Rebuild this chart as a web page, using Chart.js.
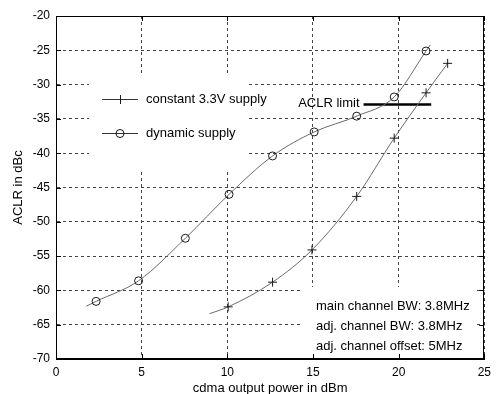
<!DOCTYPE html>
<html>
<head>
<meta charset="utf-8">
<script src="https://cdn.jsdelivr.net/npm/chart.js@4/dist/chart.umd.min.js"></script>
<style>
html,body{margin:0;padding:0;background:#fff;}
#wrap{position:relative;width:497px;height:394px;}
</style>
</head>
<body>
<div id="wrap"><canvas id="c"></canvas></div>
<script>
// ---- data ----
const xTicks = [0, 5, 10, 15, 20, 25];
const yTicks = [-70, -65, -60, -55, -50, -45, -40, -35, -30, -25, -20];

// constant 3.3V supply (first point = start of the fitted curve, no marker)
const constX = [8.96, 10.05, 12.64, 14.94, 17.55, 19.74, 21.6, 22.86];
const constY = [-63.4, -62.4, -58.8, -54.1, -46.3, -37.8, -31.2, -26.9];
const constMarker = [0, 1, 1, 1, 1, 1, 1, 1];

// dynamic supply (first/last point = curve ends, no marker)
const dynX = [1.77, 2.34, 4.82, 7.55, 10.1, 12.64, 15.07, 17.55, 19.74, 21.6, 21.85];
const dynY = [-62.3, -61.6, -58.6, -52.4, -46.0, -40.4, -36.9, -34.6, -31.8, -25.1, -24.2];
const dynMarker = [0, 1, 1, 1, 1, 1, 1, 1, 1, 1, 0];

// ACLR limit line
const limitX = [17.95, 21.9];
const limitY = [-32.9, -32.9];

const seriesNames = ['constant 3.3V supply', 'dynamic supply'];
const notes = ['main channel BW: 3.8MHz', 'adj. channel BW: 3.8MHz', 'adj. channel offset: 5MHz'];
const limitLabel = 'ACLR limit';
const xTitle = 'cdma output power in dBm';
const yTitle = 'ACLR in dBc';

const FONT = '"Liberation Sans", Arial, sans-serif';
const LINE = '#6a6a6a';
const MARK = '#1a1a1a';

function pts(xs, ys) { return xs.map((x, i) => ({x: x, y: ys[i]})); }

const boxPlugin = {
  id: 'boxPlugin',
  beforeDatasetsDraw(chart) {
    const ctx = chart.ctx, a = chart.chartArea;
    ctx.save();
    ctx.fillStyle = '#fff';
    // legend box (hides grid)
    ctx.fillRect(a.left + 33, a.top + 58, 157, 96);
    // annotation box
    ctx.fillRect(a.left + 244, a.top + 271, 176, a.bottom - (a.top + 271) - 1);
    ctx.restore();
  },
  afterDraw(chart) {
    const ctx = chart.ctx, a = chart.chartArea;
    const xs = chart.scales.x, ys = chart.scales.y;
    ctx.save();
    // box
    ctx.strokeStyle = '#000';
    ctx.lineWidth = 1;
    ctx.setLineDash([]);
    ctx.strokeRect(Math.round(a.left) + 0.5, Math.round(a.top) + 0.5,
                   Math.round(a.right - a.left) - 1, Math.round(a.bottom - a.top) - 1);
    // inward ticks
    ctx.beginPath();
    xTicks.forEach(v => {
      const px = Math.round(xs.getPixelForValue(v)) + 0.5;
      ctx.moveTo(px, a.bottom); ctx.lineTo(px, a.bottom - 5);
      ctx.moveTo(px, a.top); ctx.lineTo(px, a.top + 5);
    });
    yTicks.forEach(v => {
      const py = Math.round(ys.getPixelForValue(v)) + 0.5;
      ctx.moveTo(a.left, py); ctx.lineTo(a.left + 5, py);
      ctx.moveTo(a.right, py); ctx.lineTo(a.right - 5, py);
    });
    ctx.stroke();

    ctx.fillStyle = '#000';
    ctx.font = '13px ' + FONT;
    ctx.textBaseline = 'middle';
    // legend
    const lx0 = a.left + 46, lx1 = a.left + 82, lmid = a.left + 64;
    const ly = [a.top + 83, a.top + 117];
    for (let i = 0; i < 2; i++) {
      ctx.strokeStyle = '#333';
      ctx.lineWidth = 1;
      ctx.beginPath();
      ctx.moveTo(lx0, ly[i] + 0.5); ctx.lineTo(lx1, ly[i] + 0.5);
      ctx.stroke();
      ctx.strokeStyle = MARK;
      ctx.beginPath();
      if (i === 0) {
        ctx.moveTo(lmid + 0.5, ly[i] - 4); ctx.lineTo(lmid + 0.5, ly[i] + 5);
      } else {
        ctx.arc(lmid, ly[i] + 0.5, 4, 0, Math.PI * 2);
      }
      ctx.stroke();
      ctx.textAlign = 'left';
      ctx.fillText(seriesNames[i], a.left + 90, ly[i]);
    }
    // annotation
    notes.forEach((t, i) => ctx.fillText(t, a.left + 260, a.top + 290 + i * 20));
    // limit label
    ctx.textAlign = 'right';
    ctx.fillText(limitLabel, xs.getPixelForValue(limitX[0]) - 4, ys.getPixelForValue(limitY[0]) - 1);
    // axis titles
    ctx.textAlign = 'center';
    ctx.fillText(xTitle, (a.left + a.right) / 2, 388);
    ctx.save();
    ctx.translate(18, (a.top + a.bottom) / 2);
    ctx.rotate(-Math.PI / 2);
    ctx.fillText(yTitle, 0, 0);
    ctx.restore();
    ctx.restore();
  }
};

new Chart(document.getElementById('c'), {
  type: 'scatter',
  data: {
    datasets: [
      {
        label: seriesNames[0],
        data: pts(constX, constY),
        showLine: true,
        cubicInterpolationMode: 'monotone',
        borderColor: LINE,
        borderWidth: 1,
        pointStyle: 'cross',
        pointRadius: ctx => constMarker[ctx.dataIndex] ? 4.5 : 0,
        pointBorderColor: MARK,
        pointBorderWidth: 1,
        pointBackgroundColor: 'transparent',
        pointHoverRadius: 0
      },
      {
        label: seriesNames[1],
        data: pts(dynX, dynY),
        showLine: true,
        cubicInterpolationMode: 'monotone',
        borderColor: LINE,
        borderWidth: 1,
        pointStyle: 'circle',
        pointRadius: ctx => dynMarker[ctx.dataIndex] ? 4 : 0,
        pointBorderColor: MARK,
        pointBorderWidth: 1,
        pointBackgroundColor: 'transparent',
        pointHoverRadius: 0
      },
      {
        label: limitLabel,
        data: pts(limitX, limitY),
        showLine: true,
        borderColor: '#000',
        borderWidth: 2.5,
        pointRadius: 0,
        pointHoverRadius: 0
      }
    ]
  },
  options: {
    responsive: true,
    maintainAspectRatio: false,
    animation: false,
    events: [],
    layout: { padding: { top: 16, right: 5, left: 0, bottom: 0 } },
    plugins: { legend: { display: false }, tooltip: { enabled: false } },
    scales: {
      x: {
        type: 'linear', min: 0, max: 25,
        afterFit: s => { s.height = 35; },
        afterBuildTicks: s => { s.ticks = xTicks.map(v => ({value: v})); },
        ticks: { color: '#000', font: { family: FONT, size: 12 }, padding: 6, maxRotation: 0 },
        grid: { color: '#444', lineWidth: 1, drawTicks: false },
        border: { color: '#000', width: 1, dash: [3, 3] }
      },
      y: {
        type: 'linear', min: -70, max: -20,
        afterFit: s => { s.width = 56; },
        afterBuildTicks: s => { s.ticks = yTicks.map(v => ({value: v})); },
        ticks: { color: '#000', font: { family: FONT, size: 12 }, padding: 6 },
        grid: { color: '#444', lineWidth: 1, drawTicks: false },
        border: { color: '#000', width: 1, dash: [3, 3] }
      }
    }
  },
  plugins: [boxPlugin]
});
</script>
</body>
</html>
